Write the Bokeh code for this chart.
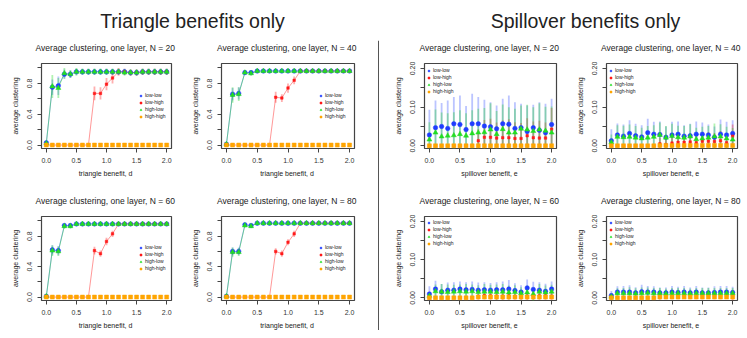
from bokeh.plotting import figure
from bokeh.layouts import row, column
from bokeh.models import (Range1d, FixedTicker, PrintfTickFormatter, Legend,
                          LegendItem, Label, Span, Spacer)
from bokeh.embed import file_html
from bokeh.resources import INLINE

# ---------------- data ----------------
benefit = [0.0, 0.1, 0.2, 0.3, 0.4, 0.5, 0.6, 0.7, 0.8, 0.9, 1.0,
           1.1, 1.2, 1.3, 1.4, 1.5, 1.6, 1.7, 1.8, 1.9, 2.0]
series_labels = ["low-low", "low-high", "high-low", "high-high"]
Ns = [20, 40, 60, 80]

# Triangle benefits only (means and error half-widths)
tri20_ll = [0.03, 0.75, 0.77, 0.92, 0.92, 0.95, 0.95, 0.95, 0.95, 0.95, 0.95, 0.95, 0.95, 0.95, 0.94, 0.94, 0.95, 0.95, 0.95, 0.95, 0.95]
tri20_lh = [0.00, 0.00, 0.00, 0.00, 0.00, 0.00, 0.00, 0.00, 0.67, 0.67, 0.79, 0.87, 0.95, 0.95, 0.94, 0.94, 0.95, 0.95, 0.95, 0.95, 0.95]
tri20_hl = [0.02, 0.76, 0.74, 0.93, 0.92, 0.95, 0.95, 0.95, 0.95, 0.95, 0.95, 0.95, 0.95, 0.94, 0.94, 0.94, 0.95, 0.95, 0.95, 0.95, 0.95]
tri20_hh = [0.00, 0.00, 0.00, 0.00, 0.00, 0.00, 0.00, 0.00, 0.00, 0.00, 0.00, 0.00, 0.00, 0.00, 0.00, 0.00, 0.00, 0.00, 0.00, 0.00, 0.00]
tri20_ll_sd = [0.02, 0.10, 0.12, 0.06, 0.05, 0.04, 0.04, 0.04, 0.04, 0.04, 0.04, 0.04, 0.04, 0.04, 0.04, 0.04, 0.04, 0.04, 0.04, 0.04, 0.04]
tri20_lh_sd = [0.00, 0.00, 0.00, 0.00, 0.00, 0.00, 0.00, 0.00, 0.09, 0.08, 0.08, 0.07, 0.05, 0.04, 0.04, 0.04, 0.04, 0.04, 0.04, 0.04, 0.04]
tri20_hl_sd = [0.02, 0.15, 0.13, 0.07, 0.05, 0.05, 0.04, 0.04, 0.04, 0.04, 0.04, 0.04, 0.04, 0.04, 0.04, 0.04, 0.04, 0.04, 0.04, 0.04, 0.04]

tri40_ll = [0.01, 0.66, 0.67, 0.94, 0.94, 0.96, 0.96, 0.96, 0.96, 0.96, 0.96, 0.96, 0.96, 0.96, 0.96, 0.96, 0.96, 0.96, 0.96, 0.96, 0.96]
tri40_lh = [0.00, 0.00, 0.00, 0.00, 0.00, 0.00, 0.00, 0.00, 0.62, 0.61, 0.74, 0.84, 0.96, 0.96, 0.96, 0.96, 0.96, 0.96, 0.96, 0.96, 0.96]
tri40_hl = [0.01, 0.65, 0.66, 0.94, 0.93, 0.96, 0.96, 0.96, 0.96, 0.96, 0.96, 0.96, 0.96, 0.96, 0.96, 0.96, 0.96, 0.96, 0.96, 0.96, 0.96]
tri40_hh = [0.00, 0.00, 0.00, 0.00, 0.00, 0.00, 0.00, 0.00, 0.00, 0.00, 0.00, 0.00, 0.00, 0.00, 0.00, 0.00, 0.00, 0.00, 0.00, 0.00, 0.00]
tri40_ll_sd = [0.01, 0.08, 0.08, 0.03, 0.03, 0.02, 0.02, 0.02, 0.02, 0.02, 0.02, 0.02, 0.02, 0.02, 0.02, 0.02, 0.02, 0.02, 0.02, 0.02, 0.02]
tri40_lh_sd = [0.00, 0.00, 0.00, 0.00, 0.00, 0.00, 0.00, 0.00, 0.07, 0.05, 0.06, 0.05, 0.03, 0.02, 0.02, 0.02, 0.02, 0.02, 0.02, 0.02, 0.02]
tri40_hl_sd = [0.01, 0.10, 0.09, 0.03, 0.03, 0.02, 0.02, 0.02, 0.02, 0.02, 0.02, 0.02, 0.02, 0.02, 0.02, 0.02, 0.02, 0.02, 0.02, 0.02, 0.02]

tri60_ll = [0.01, 0.62, 0.61, 0.94, 0.94, 0.96, 0.96, 0.96, 0.96, 0.96, 0.96, 0.96, 0.96, 0.96, 0.96, 0.96, 0.96, 0.96, 0.96, 0.96, 0.96]
tri60_lh = [0.00, 0.00, 0.00, 0.00, 0.00, 0.00, 0.00, 0.00, 0.61, 0.57, 0.73, 0.83, 0.96, 0.96, 0.96, 0.96, 0.96, 0.96, 0.96, 0.96, 0.96]
tri60_hl = [0.01, 0.61, 0.60, 0.93, 0.93, 0.96, 0.96, 0.96, 0.96, 0.96, 0.96, 0.96, 0.96, 0.96, 0.96, 0.96, 0.96, 0.96, 0.96, 0.96, 0.96]
tri60_hh = [0.00, 0.00, 0.00, 0.00, 0.00, 0.00, 0.00, 0.00, 0.00, 0.00, 0.00, 0.00, 0.00, 0.00, 0.00, 0.00, 0.00, 0.00, 0.00, 0.00, 0.00]
tri60_ll_sd = [0.01, 0.06, 0.06, 0.03, 0.03, 0.02, 0.02, 0.02, 0.02, 0.02, 0.02, 0.02, 0.02, 0.02, 0.02, 0.02, 0.02, 0.02, 0.02, 0.02, 0.02]
tri60_lh_sd = [0.00, 0.00, 0.00, 0.00, 0.00, 0.00, 0.00, 0.00, 0.05, 0.04, 0.05, 0.04, 0.02, 0.02, 0.02, 0.02, 0.02, 0.02, 0.02, 0.02, 0.02]
tri60_hl_sd = [0.01, 0.07, 0.06, 0.03, 0.03, 0.02, 0.02, 0.02, 0.02, 0.02, 0.02, 0.02, 0.02, 0.02, 0.02, 0.02, 0.02, 0.02, 0.02, 0.02, 0.02]

tri80_ll = [0.01, 0.60, 0.60, 0.95, 0.94, 0.97, 0.97, 0.97, 0.97, 0.97, 0.97, 0.97, 0.97, 0.97, 0.97, 0.97, 0.97, 0.97, 0.97, 0.97, 0.97]
tri80_lh = [0.00, 0.00, 0.00, 0.00, 0.00, 0.00, 0.00, 0.00, 0.60, 0.57, 0.72, 0.83, 0.97, 0.97, 0.97, 0.97, 0.97, 0.97, 0.97, 0.97, 0.97]
tri80_hl = [0.01, 0.59, 0.59, 0.94, 0.93, 0.97, 0.97, 0.97, 0.97, 0.97, 0.97, 0.97, 0.97, 0.97, 0.97, 0.97, 0.97, 0.97, 0.97, 0.97, 0.97]
tri80_hh = [0.00, 0.00, 0.00, 0.00, 0.00, 0.00, 0.00, 0.00, 0.00, 0.00, 0.00, 0.00, 0.00, 0.00, 0.00, 0.00, 0.00, 0.00, 0.00, 0.00, 0.00]
tri80_ll_sd = [0.01, 0.05, 0.05, 0.02, 0.02, 0.01, 0.01, 0.01, 0.01, 0.01, 0.01, 0.01, 0.01, 0.01, 0.01, 0.01, 0.01, 0.01, 0.01, 0.01, 0.01]
tri80_lh_sd = [0.00, 0.00, 0.00, 0.00, 0.00, 0.00, 0.00, 0.00, 0.04, 0.04, 0.04, 0.04, 0.02, 0.01, 0.01, 0.01, 0.01, 0.01, 0.01, 0.01, 0.01]
tri80_hl_sd = [0.01, 0.06, 0.05, 0.02, 0.02, 0.01, 0.01, 0.01, 0.01, 0.01, 0.01, 0.01, 0.01, 0.01, 0.01, 0.01, 0.01, 0.01, 0.01, 0.01, 0.01]

# Spillover benefits only (means and error half-widths)
sp20_ll = [0.028, 0.047, 0.050, 0.045, 0.057, 0.055, 0.042, 0.057, 0.057, 0.051, 0.049, 0.044, 0.057, 0.056, 0.045, 0.047, 0.037, 0.047, 0.040, 0.034, 0.055]
sp20_lh = [0.000, 0.000, 0.000, 0.000, 0.000, 0.000, 0.000, 0.000, 0.013, 0.022, 0.022, 0.020, 0.021, 0.021, 0.019, 0.019, 0.026, 0.021, 0.020, 0.020, 0.043]
sp20_hl = [0.016, 0.034, 0.024, 0.026, 0.027, 0.030, 0.026, 0.032, 0.034, 0.035, 0.042, 0.030, 0.043, 0.034, 0.034, 0.044, 0.042, 0.038, 0.042, 0.039, 0.034]
sp20_hh = [0.000, 0.000, 0.000, 0.000, 0.000, 0.000, 0.000, 0.000, 0.000, 0.000, 0.000, 0.000, 0.000, 0.000, 0.000, 0.000, 0.000, 0.000, 0.000, 0.000, 0.000]
sp20_ll_sd = [0.065, 0.070, 0.061, 0.072, 0.069, 0.075, 0.061, 0.078, 0.069, 0.068, 0.064, 0.060, 0.065, 0.074, 0.068, 0.062, 0.067, 0.059, 0.073, 0.075, 0.067]
sp20_lh_sd = [0.000, 0.000, 0.000, 0.000, 0.000, 0.000, 0.000, 0.000, 0.030, 0.045, 0.048, 0.040, 0.045, 0.048, 0.042, 0.040, 0.045, 0.042, 0.045, 0.040, 0.055]
sp20_hl_sd = [0.045, 0.060, 0.062, 0.058, 0.060, 0.062, 0.058, 0.060, 0.062, 0.063, 0.068, 0.060, 0.064, 0.066, 0.062, 0.060, 0.064, 0.062, 0.068, 0.062, 0.068]

sp40_ll = [0.013, 0.028, 0.025, 0.032, 0.026, 0.023, 0.034, 0.030, 0.029, 0.022, 0.028, 0.030, 0.025, 0.026, 0.030, 0.030, 0.028, 0.022, 0.030, 0.028, 0.032]
sp40_lh = [0.000, 0.000, 0.000, 0.000, 0.000, 0.000, 0.000, 0.000, 0.005, 0.003, 0.007, 0.009, 0.009, 0.010, 0.008, 0.012, 0.012, 0.011, 0.013, 0.008, 0.025]
sp40_hl = [0.009, 0.023, 0.022, 0.023, 0.021, 0.019, 0.021, 0.023, 0.028, 0.021, 0.025, 0.022, 0.021, 0.024, 0.017, 0.019, 0.021, 0.024, 0.024, 0.019, 0.016]
sp40_hh = [0.000, 0.000, 0.000, 0.000, 0.000, 0.000, 0.000, 0.000, 0.001, 0.001, 0.001, 0.001, 0.001, 0.001, 0.001, 0.001, 0.001, 0.001, 0.001, 0.001, 0.001]
sp40_ll_sd = [0.030, 0.030, 0.030, 0.034, 0.031, 0.030, 0.036, 0.032, 0.034, 0.028, 0.034, 0.033, 0.028, 0.031, 0.033, 0.030, 0.027, 0.028, 0.038, 0.034, 0.034]
sp40_lh_sd = [0.000, 0.000, 0.000, 0.000, 0.000, 0.000, 0.000, 0.000, 0.015, 0.012, 0.018, 0.020, 0.020, 0.022, 0.020, 0.024, 0.024, 0.022, 0.025, 0.020, 0.030]
sp40_hl_sd = [0.020, 0.030, 0.030, 0.032, 0.030, 0.028, 0.030, 0.030, 0.032, 0.030, 0.032, 0.030, 0.030, 0.032, 0.030, 0.030, 0.030, 0.034, 0.032, 0.030, 0.030]

sp60_ll = [0.010, 0.023, 0.016, 0.020, 0.020, 0.023, 0.021, 0.022, 0.020, 0.021, 0.020, 0.021, 0.021, 0.023, 0.019, 0.015, 0.026, 0.022, 0.020, 0.017, 0.023]
sp60_lh = [0.000, 0.000, 0.000, 0.000, 0.000, 0.000, 0.000, 0.000, 0.003, 0.006, 0.005, 0.004, 0.004, 0.005, 0.003, 0.004, 0.004, 0.005, 0.005, 0.005, 0.004]
sp60_hl = [0.005, 0.017, 0.016, 0.015, 0.016, 0.017, 0.016, 0.017, 0.015, 0.016, 0.016, 0.015, 0.016, 0.014, 0.015, 0.012, 0.014, 0.010, 0.016, 0.014, 0.016]
sp60_hh = [0.000, 0.000, 0.000, 0.000, 0.000, 0.000, 0.000, 0.000, 0.002, 0.002, 0.002, 0.002, 0.002, 0.002, 0.002, 0.002, 0.002, 0.002, 0.002, 0.002, 0.002]
sp60_ll_sd = [0.020, 0.022, 0.020, 0.020, 0.021, 0.020, 0.020, 0.021, 0.020, 0.020, 0.019, 0.020, 0.022, 0.024, 0.019, 0.018, 0.022, 0.020, 0.021, 0.020, 0.020]
sp60_lh_sd = [0.000, 0.000, 0.000, 0.000, 0.000, 0.000, 0.000, 0.000, 0.008, 0.010, 0.010, 0.010, 0.010, 0.010, 0.008, 0.010, 0.010, 0.010, 0.010, 0.010, 0.010]
sp60_hl_sd = [0.010, 0.018, 0.020, 0.020, 0.018, 0.018, 0.020, 0.018, 0.018, 0.020, 0.018, 0.020, 0.020, 0.018, 0.018, 0.016, 0.018, 0.018, 0.020, 0.018, 0.018]

sp80_ll = [0.006, 0.015, 0.015, 0.015, 0.013, 0.016, 0.015, 0.015, 0.013, 0.013, 0.015, 0.014, 0.015, 0.013, 0.015, 0.013, 0.013, 0.014, 0.015, 0.015, 0.014]
sp80_lh = [0.000, 0.000, 0.000, 0.000, 0.000, 0.000, 0.000, 0.000, 0.003, 0.004, 0.004, 0.004, 0.005, 0.004, 0.004, 0.004, 0.005, 0.004, 0.004, 0.005, 0.005]
sp80_hl = [0.003, 0.012, 0.012, 0.012, 0.011, 0.012, 0.013, 0.012, 0.012, 0.011, 0.012, 0.012, 0.012, 0.011, 0.012, 0.012, 0.012, 0.012, 0.012, 0.012, 0.012]
sp80_hh = [0.000, 0.000, 0.000, 0.000, 0.000, 0.000, 0.000, 0.000, 0.002, 0.002, 0.002, 0.002, 0.002, 0.002, 0.002, 0.002, 0.002, 0.002, 0.002, 0.002, 0.002]
sp80_ll_sd = [0.012, 0.015, 0.016, 0.018, 0.015, 0.018, 0.016, 0.015, 0.014, 0.014, 0.016, 0.015, 0.016, 0.014, 0.016, 0.014, 0.014, 0.016, 0.016, 0.016, 0.015]
sp80_lh_sd = [0.000, 0.000, 0.000, 0.000, 0.000, 0.000, 0.000, 0.000, 0.008, 0.008, 0.008, 0.008, 0.008, 0.008, 0.008, 0.008, 0.008, 0.008, 0.008, 0.008, 0.012]
sp80_hl_sd = [0.006, 0.013, 0.014, 0.016, 0.014, 0.015, 0.014, 0.014, 0.014, 0.013, 0.014, 0.014, 0.014, 0.013, 0.014, 0.014, 0.014, 0.014, 0.014, 0.014, 0.014]

tri_yticks = [0.0, 0.4, 0.8]
tri_yminor = [0.2, 0.6, 1.0]
sp_yticks = [0.0, 0.10, 0.20]
sp_yminor = [0.05, 0.15]
x_ticks = [0.0, 0.5, 1.0, 1.5, 2.0]

# ---------------- styling ----------------
FONT = "Liberation Sans"
BLUE = "#1f3cff"
RED = "#ff1a1a"
GREEN = "#22dd22"
ORANGE = "#ffa500"


def make_panel(title, xlabel, yr, yt, ym, yfmt, means, sds, geom, leg_loc, lines):
    bl, fw, br, bt, fh, bb = geom
    p = figure(frame_width=fw, frame_height=fh, min_border_left=bl,
               min_border_right=br, min_border_top=bt, min_border_bottom=bb,
               x_range=Range1d(-0.08, 2.08), y_range=Range1d(*yr),
               output_backend="svg", toolbar_location=None, title=title)
    p.title.text_font = FONT
    p.title.text_font_size = "8.5px"
    p.title.text_font_style = "normal"
    p.title.text_color = "#222222"
    p.title.align = "center"
    p.title.vertical_align = "top"
    p.title.standoff = 17
    p.grid.visible = False
    p.outline_line_color = "#444444"
    p.outline_line_width = 1.2
    p.background_fill_color = "white"
    p.border_fill_color = "white"

    p.xaxis.ticker = FixedTicker(ticks=x_ticks)
    p.xaxis.formatter = PrintfTickFormatter(format="%.1f")
    p.xaxis.axis_label = xlabel
    p.xaxis.major_label_standoff = 5
    p.xaxis.axis_label_standoff = 4
    p.yaxis.ticker = FixedTicker(ticks=yt, minor_ticks=ym)
    p.yaxis.formatter = PrintfTickFormatter(format=yfmt)
    p.yaxis.axis_label = "average clustering"
    p.yaxis.major_label_orientation = "vertical"
    p.yaxis.major_label_standoff = 5
    p.yaxis.axis_label_standoff = 6
    for ax in p.axis:
        ax.axis_line_color = None
        ax.major_tick_out = 4
        ax.major_tick_in = 0
        ax.minor_tick_out = 4
        ax.minor_tick_in = 0
        ax.major_tick_line_color = "#444444"
        ax.minor_tick_line_color = "#444444"
        ax.major_label_text_font = FONT
        ax.major_label_text_font_size = "7px"
        ax.major_label_text_color = "#333333"
        ax.axis_label_text_font = FONT
        ax.axis_label_text_font_size = "7px"
        ax.axis_label_text_font_style = "normal"
        ax.axis_label_text_color = "#222222"

    colors = [BLUE, RED, GREEN, ORANGE]
    bar_alpha = [0.3, 0.35, 0.35, 0.3]
    # error bars
    for m, s, c, a in zip(means, sds, colors, bar_alpha):
        if s is None:
            continue
        lo = [mi - si for mi, si in zip(m, s)]
        hi = [mi + si for mi, si in zip(m, s)]
        p.segment(x0=benefit, y0=lo, x1=benefit, y1=hi, line_color=c,
                  line_alpha=a, line_width=1.8)
    # connecting lines
    if lines:
        for m, c in zip(means[:3], colors[:3]):
            p.line(benefit, m, line_color=c, line_alpha=0.45, line_width=1)
    # markers
    r_ll = p.scatter(benefit, means[0], marker="circle", size=4.5,
                     fill_color=BLUE, line_color=BLUE, line_width=0.5)
    r_lh = p.scatter(benefit, means[1], marker="square", size=2.5,
                     fill_color=RED, line_color=RED, line_width=0.5)
    r_hl = p.scatter(benefit, means[2], marker="triangle", size=5,
                     fill_color=GREEN, line_color=GREEN, line_width=0.5)
    r_hh = p.scatter(benefit, means[3], marker="square", size=4,
                     fill_color=ORANGE, line_color=ORANGE, line_width=0.5)
    legend = Legend(items=[LegendItem(label=lab, renderers=[r])
                           for lab, r in zip(series_labels, [r_ll, r_lh, r_hl, r_hh])],
                    location=leg_loc, margin=0, padding=0, spacing=1,
                    glyph_width=5, glyph_height=5, label_height=5,
                    label_standoff=2, label_text_font=FONT,
                    label_text_font_size="5px", label_text_color="#222222",
                    border_line_color=None, background_fill_alpha=0)
    p.add_layout(legend)
    return p


tri_data = {
    20: ([tri20_ll, tri20_lh, tri20_hl, tri20_hh], [tri20_ll_sd, tri20_lh_sd, tri20_hl_sd, None]),
    40: ([tri40_ll, tri40_lh, tri40_hl, tri40_hh], [tri40_ll_sd, tri40_lh_sd, tri40_hl_sd, None]),
    60: ([tri60_ll, tri60_lh, tri60_hl, tri60_hh], [tri60_ll_sd, tri60_lh_sd, tri60_hl_sd, None]),
    80: ([tri80_ll, tri80_lh, tri80_hl, tri80_hh], [tri80_ll_sd, tri80_lh_sd, tri80_hl_sd, None]),
}
sp_data = {
    20: ([sp20_ll, sp20_lh, sp20_hl, sp20_hh], [sp20_ll_sd, sp20_lh_sd, sp20_hl_sd, None]),
    40: ([sp40_ll, sp40_lh, sp40_hl, sp40_hh], [sp40_ll_sd, sp40_lh_sd, sp40_hl_sd, None]),
    60: ([sp60_ll, sp60_lh, sp60_hl, sp60_hh], [sp60_ll_sd, sp60_lh_sd, sp60_hl_sd, None]),
    80: ([sp80_ll, sp80_lh, sp80_hl, sp80_hh], [sp80_ll_sd, sp80_lh_sd, sp80_hl_sd, None]),
}

# geometry: (border_left, frame_w, border_right, border_top, frame_h, border_bottom)
HEADER_H = 34
ROW1 = (29, 85, 32)
ROW2 = (36, 84, 36)
COL_A = (41, 130, 14)
COL_B = (36, 133, 18)
COL_C = (40, 132, 14)
COL_D = (36, 131, 8)


def geom(col, rw):
    return (col[0], col[1], col[2], rw[0], rw[1], rw[2])


def title_for(n):
    return "Average clustering, one layer,  N = %d" % n


panels = {}
for n, col, rw in [(20, COL_A, ROW1), (40, COL_B, ROW1), (60, COL_A, ROW2), (80, COL_B, ROW2)]:
    m, s = tri_data[n]
    panels[("tri", n)] = make_panel(title_for(n), "triangle benefit,  d",
                                    (-0.045, 1.058), tri_yticks, tri_yminor, "%.1f",
                                    m, s, geom(col, rw), (97, 29), True)
for n, col, rw in [(20, COL_C, ROW1), (40, COL_D, ROW1), (60, COL_C, ROW2), (80, COL_D, ROW2)]:
    m, s = sp_data[n]
    panels[("sp", n)] = make_panel(title_for(n), "spillover benefit,  e",
                                   (-0.007, 0.213), sp_yticks, sp_yminor, "%.2f",
                                   m, s, geom(col, rw), (2, 54), False)

total_w = sum(COL_A) + sum(COL_B) + 12 + sum(COL_C) + sum(COL_D)

# header with the two group titles
hdr = figure(width=total_w, height=HEADER_H, x_range=Range1d(0, total_w),
             y_range=Range1d(0, HEADER_H), x_axis_type=None, y_axis_type=None,
             min_border=0, output_backend="svg", toolbar_location=None)
hdr.outline_line_color = None
hdr.grid.visible = False
for txt, cx in [("Triangle benefits only", 192), ("Spillover benefits only", 585)]:
    hdr.add_layout(Label(x=cx, y=HEADER_H - 20, x_units="screen", y_units="screen",
                         text=txt, text_align="center", text_baseline="middle",
                         text_font=FONT, text_font_size="19.5px",
                         text_color="#222222"))

# vertical divider between the two groups
div_h = 290
div = figure(width=12, height=div_h, x_range=Range1d(0, 12), y_range=Range1d(0, div_h),
             x_axis_type=None, y_axis_type=None, min_border=0,
             output_backend="svg", toolbar_location=None)
div.outline_line_color = None
div.grid.visible = False
div.add_layout(Span(location=6, dimension="height", line_color="#555555", line_width=1))

layout = column(
    hdr,
    row(column(panels[("tri", 20)], panels[("tri", 60)]),
        column(panels[("tri", 40)], panels[("tri", 80)]),
        column(Spacer(width=12, height=6), div),
        column(panels[("sp", 20)], panels[("sp", 60)]),
        column(panels[("sp", 40)], panels[("sp", 80)])),
)

open("out.html", "w").write(file_html(layout, INLINE))
